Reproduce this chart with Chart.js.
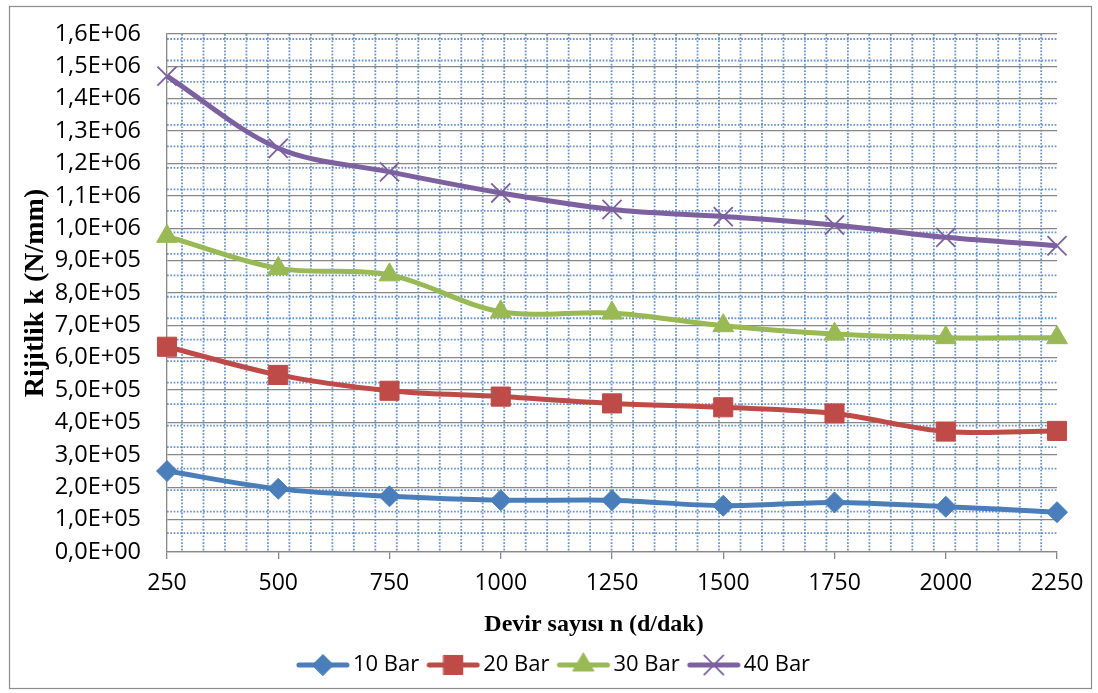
<!DOCTYPE html>
<html><head><meta charset="utf-8">
<script src="https://cdn.jsdelivr.net/npm/chart.js@4/dist/chart.umd.min.js"></script>
<style>html,body{margin:0;padding:0;background:#fff;} #wrap{width:1098px;height:693px;position:relative;}</style>
</head><body><div id="wrap"><canvas id="c" width="1098" height="693"></canvas></div>
<script>
const categories = ['250','500','750','1000','1250','1500','1750','2000','2250'];
const bar10 = [250000, 195000, 172000, 160000, 160000, 143000, 153000, 140000, 123000];
const bar20 = [634000, 547000, 498000, 480000, 459000, 447000, 428000, 372000, 374000];
const bar30 = [975000, 876000, 856000, 742000, 738000, 699000, 673000, 662000, 662000];
const bar40 = [1470000, 1247000, 1174000, 1109000, 1058000, 1036000, 1010000, 972000, 946000];
const seriesNames = ['10 Bar','20 Bar','30 Bar','40 Bar'];
const yTickLabels = ['0,0E+00','1,0E+05','2,0E+05','3,0E+05','4,0E+05','5,0E+05','6,0E+05','7,0E+05','8,0E+05','9,0E+05','1,0E+06','1,1E+06','1,2E+06','1,3E+06','1,4E+06','1,5E+06','1,6E+06'];
const xTitle = 'Devir sayısı n (d/dak)';
const yTitle = 'Rijitlik k (N/mm)';

const colors = ['#4A7EBB','#BE4B48','#98B954','#7D60A0'];
const styles = [
  {pointStyle:'rectRot', radius:10.5, bw:1},
  {pointStyle:'rect', radius:13.5, bw:1},
  {pointStyle:'triangle', radius:12, bw:1},
  {pointStyle:'crossRot', radius:13.5, bw:1.8}
];

function legendImage(i){
  const cv = document.createElement('canvas');
  cv.width = 60; cv.height = 26;
  const ctx = cv.getContext('2d');
  ctx.strokeStyle = colors[i]; ctx.lineWidth = 5; ctx.lineCap = 'round';
  ctx.beginPath(); ctx.moveTo(6,13); ctx.lineTo(54,13); ctx.stroke();
  ctx.fillStyle = colors[i]; ctx.strokeStyle = colors[i];
  ctx.lineWidth = styles[i].bw;
  Chart.helpers.drawPoint(ctx, {pointStyle: styles[i].pointStyle, radius: styles[i].radius, rotation: 0, borderWidth: styles[i].bw}, 30, 13);
  return cv;
}

const seriesData = [bar10, bar20, bar30, bar40];
const datasets = seriesNames.map((n,i)=>({
  label: n,
  data: seriesData[i],
  borderColor: colors[i],
  backgroundColor: colors[i],
  borderWidth: 5,
  tension: 0.33,
  pointStyle: styles[i].pointStyle,
  pointRadius: styles[i].radius,
  pointHoverRadius: styles[i].radius,
  pointBorderWidth: styles[i].bw,
  pointBackgroundColor: colors[i],
  pointBorderColor: colors[i],
  order: 4 - i
}));

const dotGrid = {
  id: 'dotGrid',
  beforeDraw(chart){
    const {ctx, chartArea: a} = chart;
    ctx.save();
    ctx.strokeStyle = '#8c8c8c'; ctx.lineWidth = 1.2;
    ctx.strokeRect(9.5, 6.5, 1082, 682);
    ctx.beginPath(); ctx.rect(a.left, a.top, a.right - a.left, a.bottom - a.top); ctx.clip();
    ctx.strokeStyle = 'rgba(79,129,189,0.85)'; ctx.lineWidth = 1.8; ctx.setLineDash([1.7,1.6]);
    const step = 21.48;
    for (let x = a.left + 15; x < a.right; x += step){ ctx.beginPath(); ctx.moveTo(x, a.top); ctx.lineTo(x, a.bottom); ctx.stroke(); }
    for (let y = a.top + 5; y < a.bottom; y += step){ ctx.beginPath(); ctx.moveTo(a.left, y); ctx.lineTo(a.right, y); ctx.stroke(); }
    ctx.restore();
  }
};

new Chart(document.getElementById('c'), {
  type: 'line',
  data: { labels: categories, datasets },
  plugins: [dotGrid],
  options: {
    responsive: false, animation: false,
    layout: { padding: { left: 16, top: 34, right: 0, bottom: 7 } },
    plugins: {
      tooltip: { enabled: false },
      legend: {
        position: 'bottom',
        labels: {
          usePointStyle: true, pointStyleWidth: 38, padding: 15, color: '#000',
          font: { family: 'Open Sans', size: 22 },
          generateLabels(chart){
            const items = Chart.defaults.plugins.legend.labels.generateLabels(chart);
            items.sort((a,b)=>a.datasetIndex-b.datasetIndex);
            items.forEach(it => { it.pointStyle = legendImage(it.datasetIndex); });
            return items;
          }
        }
      }
    },
    scales: {
      x: {
        type: 'category', offset: false,
        ticks: { padding: 11, color: '#000', font: { family: 'Open Sans', size: 23 }, maxRotation: 0, autoSkip: false },
        grid: { display: true, drawOnChartArea: false, drawTicks: true, tickLength: 7, color: '#878787', lineWidth: 1.3 },
        border: { color: '#878787', width: 1.3 },
        title: { display: true, text: xTitle + '      ', color: '#000', font: { family: 'Liberation Serif', size: 24, weight: 'bold' }, padding: { top: 0, bottom: 0 } },
        afterFit(s){ s.height = 87; s.paddingLeft = 0; s.paddingRight = 0; }
      },
      y: {
        min: 0, max: 1600000,
        ticks: { stepSize: 100000, padding: 26, color: '#000', font: { family: 'Open Sans', size: 23.5 },
          callback: (v) => yTickLabels[Math.round(v / 100000)] },
        grid: { color: '#878787', lineWidth: 1.3, drawTicks: false },
        border: { color: '#878787', width: 1.3 },
        title: { display: true, text: yTitle, color: '#000', font: { family: 'Liberation Serif', size: 28, weight: 'bold' }, padding: { top: 3, bottom: 0 } },
        afterFit(s){ s.width = 151; s.paddingTop = 0; s.paddingBottom = 0; }
      },
      y2: {
        position: 'right', display: true,
        ticks: { display: false }, grid: { display: false }, border: { display: false },
        afterFit(s){ s.width = 41; s.paddingTop = 0; s.paddingBottom = 0; }
      }
    }
  }
});
</script></body></html>
